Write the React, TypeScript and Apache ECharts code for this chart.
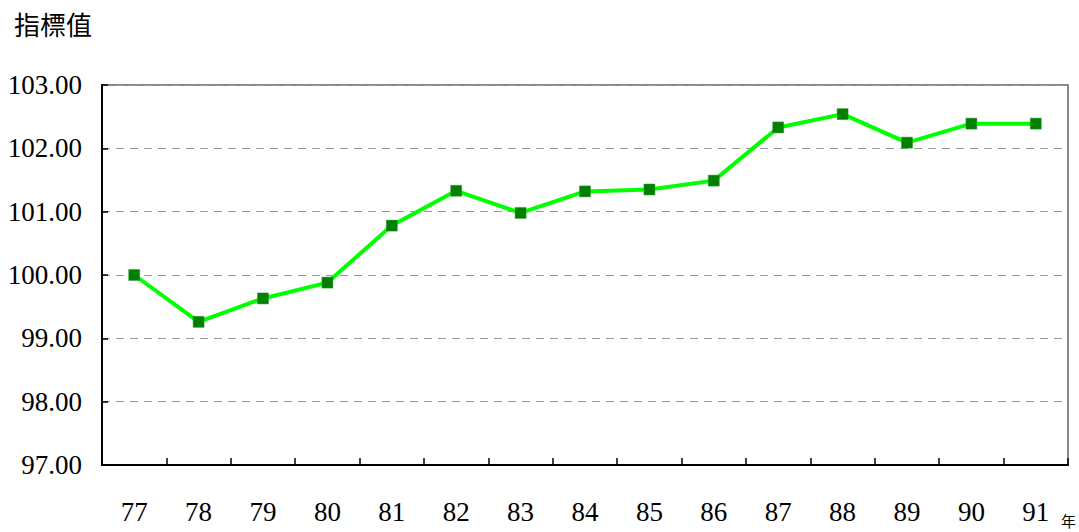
import React, { useEffect, useRef } from "react";
import * as echarts from "echarts";

const years = ["77", "78", "79", "80", "81", "82", "83", "84", "85", "86", "87", "88", "89", "90", "91"];
const values = [100.0, 99.26, 99.63, 99.88, 100.78, 101.33, 100.98, 101.32, 101.35, 101.49, 102.33, 102.54, 102.09, 102.39, 102.39];
const yTitle = "指標值";
const xUnit = "年";

export default function App() {
  const ref = useRef<HTMLDivElement>(null);
  useEffect(() => {
    if (!ref.current) return;
    const chart = echarts.init(ref.current, null, { renderer: "svg" });
    chart.setOption({
      animation: false,
      backgroundColor: "#ffffff",
      textStyle: { fontFamily: "Liberation Serif" },
      grid: {
        left: 102,
        right: 11,
        top: 85,
        bottom: 67,
        containLabel: false,
        outerBoundsMode: "none",
        show: true,
        borderColor: "#888888",
        borderWidth: 2,
      },
      graphic: [
        {
          type: "text",
          left: 14,
          top: 10,
          style: { text: yTitle, font: "26px 'Noto Sans CJK TC', sans-serif", fill: "#000" },
        },
        {
          type: "text",
          left: 1061,
          top: 513,
          style: { text: xUnit, font: "15px 'Noto Sans CJK TC', sans-serif", fill: "#000" },
        },
      ],
      xAxis: {
        type: "category",
        data: years,
        boundaryGap: true,
        axisLine: { show: true, lineStyle: { color: "#000", width: 2 } },
        axisTick: { show: true, inside: true, length: 7, alignWithLabel: false, lineStyle: { color: "#000", width: 1.5 } },
        axisLabel: { fontFamily: "Liberation Serif", fontSize: 27, color: "#000", margin: 33 },
        splitLine: { show: false },
      },
      yAxis: {
        type: "value",
        min: 97,
        max: 103,
        interval: 1,
        axisLine: { show: true, lineStyle: { color: "#000", width: 2 } },
        axisTick: { show: true, inside: true, length: 6, lineStyle: { color: "#000", width: 1.5 } },
        axisLabel: {
          fontFamily: "Liberation Serif",
          fontSize: 27,
          color: "#000",
          margin: 20,
          formatter: (v: number) => v.toFixed(2),
        },
        splitLine: {
          show: true,
          lineStyle: { color: "#999999", type: [8, 6], width: 1 },
        },
      },
      series: [
        {
          type: "line",
          data: values,
          symbol: "rect",
          symbolSize: 11,
          itemStyle: { color: "#007f00", borderColor: "#2e9a2e", borderWidth: 0.5 },
          lineStyle: { color: "#00ff00", width: 4 },
        },
      ],
    });
    return () => chart.dispose();
  }, []);
  return <div ref={ref} style={{ position: "fixed", left: 0, top: 0, width: 1079, height: 532 }} />;
}
